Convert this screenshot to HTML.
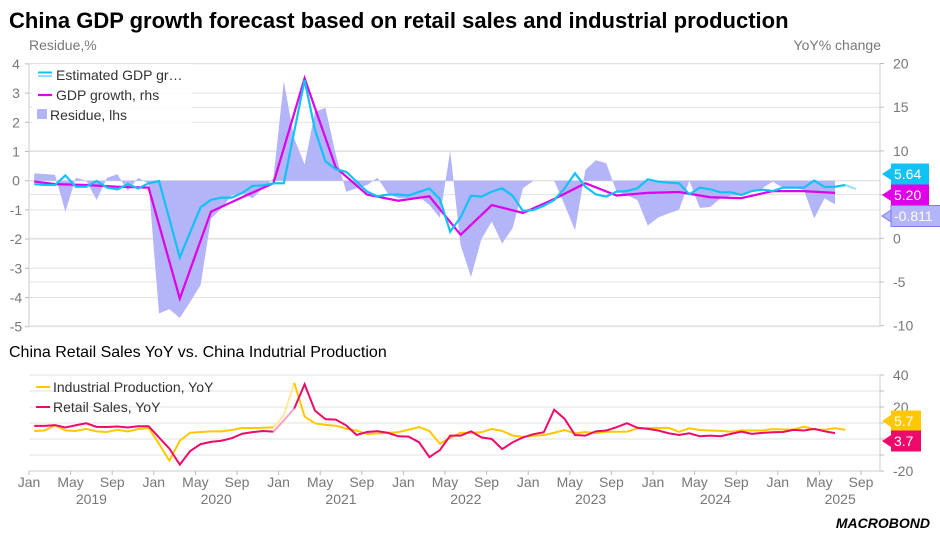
<!DOCTYPE html>
<html><head><meta charset="utf-8"><style>
body{margin:0;background:#fff;width:940px;height:543px;overflow:hidden;font-family:"Liberation Sans",sans-serif}
svg text{font-family:"Liberation Sans",sans-serif}
</style></head><body>
<svg id="c" width="940" height="543" viewBox="0 0 940 543" xmlns="http://www.w3.org/2000/svg">
<text x="9" y="28" font-size="22" font-weight="bold" fill="#000">China GDP growth forecast based on retail sales and industrial production</text>
<text x="29" y="50" font-size="14" fill="#777">Residue,%</text>
<text x="881" y="50" font-size="14" fill="#777" text-anchor="end">YoY% change</text>
<text x="9" y="357" font-size="16" fill="#000">China Retail Sales YoY vs. China Indutrial Production</text>
<g id="topc"></g>
<g id="botc"></g>
<g id="xax"></g>
<text x="930" y="528" font-size="14" font-weight="bold" font-style="italic" fill="#000" text-anchor="end">MACROBOND</text>
</svg>
<script>
// ---- data ----
const estGdp = [6.2,6.1,6.1,7.2,5.9,5.9,6.55,5.8,5.6,6.2,5.7,6.3,6.55,2.2,-2.2,0.7,3.55,4.4,4.65,4.65,5.2,6.0,6.05,6.3,6.3,12.2,18.1,12.4,8.8,7.9,7.6,6.5,5.35,4.8,5.0,5.0,4.9,5.3,5.7,4.5,0.75,2.4,4.88,4.77,5.34,5.72,4.88,3.12,3.24,3.73,4.38,5.72,7.44,5.9,5.03,4.77,5.34,5.41,5.72,6.75,6.48,6.37,6.29,5.03,5.8,5.6,5.26,5.26,4.96,5.41,5.57,5.41,5.8,5.8,5.8,6.6,5.87,5.9,6.1,5.64];
const gdpMonths = [0,2,5,8,11,14,17,20,23,26,29,32,35,38,41,44,47,50,53,56,59,62,65,68,71,74,77];
const gdpVals = [6.5,6.2,6.1,5.9,5.8,-6.9,3.05,4.7,6.3,18.3,8.1,5.0,4.3,4.8,0.4,3.8,2.9,4.5,6.3,4.9,5.2,5.3,4.7,4.6,5.4,5.4,5.2];
const residue = [0.25,0.23,0.2,-1.06,0.1,0,-0.66,0.1,0.22,-0.35,0.1,-0.1,-4.55,-4.4,-4.7,-4.15,-3.57,-1.3,-0.95,-0.5,-0.43,-0.6,-0.26,0.08,3.4,1.45,0.56,2.36,2.5,0.88,-0.38,-0.26,-0.15,0.1,-0.43,-0.6,-0.6,-0.55,-0.83,-1.27,1.02,-2.2,-3.3,-2.0,-1.4,-2.15,-1.63,-0.26,0,0,0,-0.83,-1.7,0.37,0.7,0.6,-0.38,-0.5,-0.66,-1.54,-1.26,-1.12,-1.0,0,-0.93,-0.9,-0.6,-0.51,-0.51,-0.38,-0.26,-0.03,-0.24,-0.24,-0.32,-1.29,-0.6,-0.811];
const retail = [8.2,8.2,8.7,7.2,8.6,9.8,7.6,7.5,7.8,7.2,8.0,8.0,1.0,-6.0,-16.0,-7.5,-3.2,-1.8,-1.1,0.5,3.3,4.3,5.0,4.6,11.6,19.0,34.2,17.7,12.4,12.1,8.5,2.5,4.4,4.9,3.9,1.7,1.5,-2.0,-11.3,-7.0,2.1,2.1,4.8,1.0,0,-6.3,-2.1,1.0,3.0,4.2,18.3,12.6,2.5,2.1,4.8,5.3,7.4,9.9,7.0,6.3,5.3,3.6,2.5,3.6,1.7,2.1,1.7,3.2,4.6,3.2,3.8,4.2,4.4,5.7,5.3,6.3,4.8,3.7];
const indprod = [5.0,5.3,8.5,5.4,5.0,6.3,4.8,4.4,5.8,4.7,6.2,6.9,-3.0,-13.5,-1.1,3.9,4.4,4.8,4.8,5.6,6.9,6.9,7.0,7.3,14.7,35.1,14.1,9.8,8.8,8.3,6.4,5.3,3.1,3.5,3.8,4.3,5.8,7.5,5.0,-2.9,0.7,3.9,3.8,4.2,6.3,5.0,2.2,1.3,2.0,2.4,3.9,5.6,3.5,4.4,3.7,4.5,4.5,4.6,6.6,6.8,6.9,7.0,4.5,6.7,5.6,5.3,5.1,4.5,5.4,5.3,5.4,6.2,5.9,5.9,7.7,6.1,5.8,6.8,5.7];
const leftTicks = [4,3,2,1,0,-1,-2,-3,-4,-5];
const rightTicks = [20,15,10,5,0,-5,-10];
const botTicks = [40,20,-20];
const botGrid = [40,30,20,10,0,-10,-20];
const monthNames = ["Jan","May","Sep"];
const years = [2019,2020,2021,2022,2023,2024,2025];

// ---- axes ----
const X0=29, MW=10.4, XR=880;
const xm = m => X0 + (m+0.5)*MW;
const xs = m => X0 + m*MW;
const yL = v => 180.7 - v*29.2;
const yR = v => 238.3 - v*8.74;
const yB = v => 439 - v*1.6;
const NS="http://www.w3.org/2000/svg";
function mk(parent,tg,attrs,txt){const e=document.createElementNS(NS,tg);for(const k in attrs)e.setAttribute(k,attrs[k]);if(txt!==undefined)e.textContent=txt;parent.appendChild(e);return e;}
const topG=document.getElementById('topc'), botG=document.getElementById('botc'), xax=document.getElementById('xax');

// top grid
leftTicks.forEach(v=>{
  const l=mk(topG,'line',{x1:X0,x2:XR,y1:yL(v),y2:yL(v),stroke:v===0?'#d8d8d8':'#e2e2e2','stroke-width':1});
  
  
  const t=mk(topG,'text',{x:16,y:yL(v)+5,'font-size':14,fill:'#777','text-anchor':'middle'},String(v));
  
  
  mk(topG,'line',{x1:X0-4,x2:X0,y1:yL(v),y2:yL(v),stroke:'#bbb'});
});
rightTicks.forEach(v=>{
  const l=mk(topG,'line',{x1:X0,x2:XR,y1:yR(v),y2:yR(v),stroke:'#e2e2e2','stroke-width':1});
  
  
  const t=mk(topG,'text',{x:893,y:yR(v)+5,'font-size':14,fill:'#777'},String(v));
  
  
  mk(topG,'line',{x1:XR,x2:XR+4,y1:yR(v),y2:yR(v),stroke:'#bbb'});
});
mk(topG,'line',{x1:X0,x2:X0,y1:yL(4),y2:yL(-5),stroke:'#ccc'});
mk(topG,'line',{x1:XR,x2:XR,y1:yL(4),y2:yL(-5),stroke:'#ccc'});

// residue area
let dPath=`M${xm(0)},${yL(0)}`;
residue.forEach((v,i)=>{dPath+=` L${xm(i)},${yL(v)}`;});
dPath+=` L${xm(residue.length-1)},${yL(0)} Z`;
const area=mk(topG,'path',{d:dPath,fill:'#b4b4f8'});



// gdp line
const gp=mk(topG,'polyline',{points:gdpMonths.map((m,i)=>xm(m)+','+yR(gdpVals[i])).join(' '),fill:'none',stroke:'#dd00e8','stroke-width':2.2});


// estimated gdp
const nEst=estGdp.length;
const ep=mk(topG,'polyline',{points:estGdp.slice(0,nEst-1).map((v,i)=>xm(i)+','+yR(v)).join(' '),fill:'none',stroke:'#12c2f5','stroke-width':2.2});


const ef=mk(topG,'polyline',{points:[nEst-2,nEst-1].map(i=>xm(i)+','+yR(estGdp[i])).join(' '),fill:'none',stroke:'#8fe0f8','stroke-width':2});



// top legend
const lg=mk(topG,'g',{});


mk(lg,'rect',{x:32,y:64,width:160,height:63,fill:'#fff','fill-opacity':0.85});
mk(lg,'line',{x1:38,x2:52,y1:72.5,y2:72.5,stroke:'#12c2f5','stroke-width':2});
mk(lg,'line',{x1:38,x2:52,y1:76,y2:76,stroke:'#8fe0f8','stroke-width':2});
mk(lg,'text',{x:56,y:80,'font-size':14,fill:'#333'},'Estimated GDP gr…');
mk(lg,'line',{x1:38,x2:52,y1:95,y2:95,stroke:'#dd00e8','stroke-width':2.2});
mk(lg,'text',{x:56,y:100,'font-size':14,fill:'#333'},'GDP growth, rhs');
mk(lg,'rect',{x:37,y:109,width:10,height:10,fill:'#b4b4f8'});
mk(lg,'text',{x:50,y:120,'font-size':14,fill:'#333'},'Residue, lhs');

function valueTag(parent,y,txt,bg,fg,name,border){
  const g=mk(parent,'g',{});
  
  
  const w=txt.length*8+6;
  mk(g,'path',{d:`M${XR+2},${y} L${XR+11},${y-6} L${XR+11},${y+6} Z`,fill:bg,stroke:border||'none'});
  mk(g,'rect',{x:XR+11,y:y-10.5,width:w,height:21,fill:bg,stroke:border||'none'});
  mk(g,'text',{x:XR+14,y:y+5,'font-size':14,fill:fg},txt);
}
valueTag(topG,174,'5.64','#12c2f5','#fff','est-gdp-value-tag');
valueTag(topG,195,'5.20','#dd00e8','#fff','gdp-value-tag');
valueTag(topG,216,'-0.811','#b4b4f8','#fff','residue-value-tag','#7b7bef');

// bottom chart
botGrid.forEach(v=>{
  const l=mk(botG,'line',{x1:X0,x2:XR,y1:yB(v),y2:yB(v),stroke:'#e2e2e2'});
  
  
  mk(botG,'line',{x1:XR,x2:XR+4,y1:yB(v),y2:yB(v),stroke:'#bbb'});
});
botTicks.forEach(v=>{
  const t=mk(botG,'text',{x:893,y:yB(v)+5,'font-size':14,fill:'#777'},String(v));
  
  
});
mk(botG,'line',{x1:XR,x2:XR,y1:yB(40),y2:yB(-20),stroke:'#ccc'});
mk(botG,'line',{x1:X0,x2:XR,y1:yB(-20),y2:yB(-20),stroke:'#ccc'});

function seg(arr,a,b){return arr.slice(a,b+1).map((v,i)=>xm(a+i)+','+yB(v)).join(' ');}
function drawSeries(arr,col,fade,name){
  const p1=mk(botG,'polyline',{points:seg(arr,0,23),fill:'none',stroke:col,'stroke-width':2});
  
  
  const p2=mk(botG,'polyline',{points:seg(arr,23,25),fill:'none',stroke:fade,'stroke-width':2});
  
  
  const p3=mk(botG,'polyline',{points:seg(arr,25,arr.length-1),fill:'none',stroke:col,'stroke-width':2});
  
  
}
drawSeries(indprod,'#ffc800','#ffe9a0','industrial-production-line');
drawSeries(retail,'#ee0a6a','#f7a0c4','retail-sales-line');

const lg2=mk(botG,'g',{});


mk(lg2,'line',{x1:36,x2:50,y1:387,y2:387,stroke:'#ffc800','stroke-width':2});
mk(lg2,'text',{x:53,y:392,'font-size':14,fill:'#333'},'Industrial Production, YoY');
mk(lg2,'line',{x1:36,x2:50,y1:407,y2:407,stroke:'#ee0a6a','stroke-width':2});
mk(lg2,'text',{x:53,y:412,'font-size':14,fill:'#333'},'Retail Sales, YoY');
valueTag(botG,421,'5.7','#ffc800','#fff','industrial-value-tag');
valueTag(botG,441,'3.7','#ee0a6a','#fff','retail-value-tag');

// x axis labels
for(let y=0;y<7;y++){
  for(let k=0;k<3;k++){
    const m=y*12+k*4;
    if(m>80)continue;
    mk(xax,'line',{x1:xs(m),x2:xs(m),y1:yB(-20),y2:yB(-20)+4,stroke:'#bbb'});
    const t=mk(xax,'text',{x:xs(m),y:487,'font-size':14,fill:'#777','text-anchor':'middle'},monthNames[k]);
    
    
  }
  const yt=mk(xax,'text',{x:xs(y*12+6),y:504,'font-size':14,fill:'#777','text-anchor':'middle'},String(years[y]));
  
  
}
</script>
</body></html>
